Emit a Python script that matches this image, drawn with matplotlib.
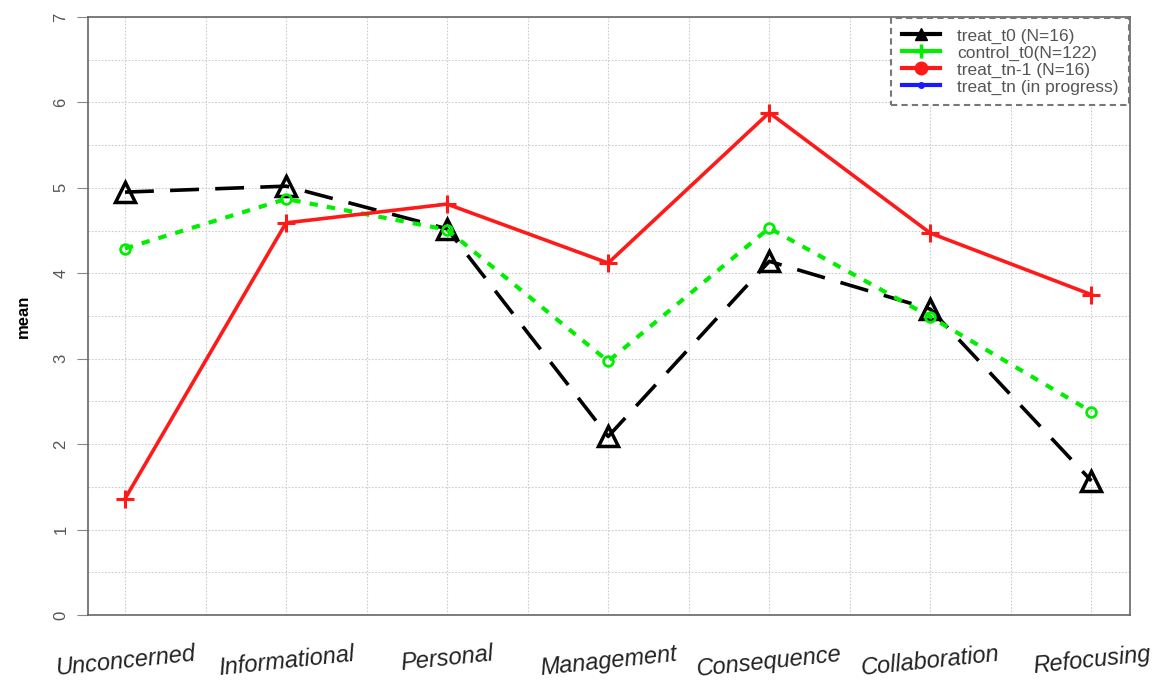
import matplotlib.pyplot as plt
import numpy as np
from matplotlib.lines import Line2D

plt.rcParams['font.family'] = ['Liberation Sans', 'DejaVu Sans']

# Data
stages = ['Unconcerned', 'Informational', 'Personal', 'Management',
          'Consequence', 'Collaboration', 'Refocusing']
treat_t0 = [4.95, 5.02, 4.52, 2.09, 4.14, 3.58, 1.57]
control_t0 = [4.29, 4.87, 4.51, 2.97, 4.53, 3.49, 2.38]
treat_tn1 = [1.36, 4.59, 4.81, 4.12, 5.88, 4.47, 3.75]
legend_labels = ['treat_t0 (N=16)', 'control_t0(N=122)', 'treat_tn-1 (N=16)', 'treat_tn (in progress)']

x = np.arange(1, len(stages) + 1)

fig = plt.figure(figsize=(11.57, 6.8), dpi=100)
ax = fig.add_axes([0.076, 0.0956, 0.9007, 0.8794])

ax.plot(x, treat_t0, color='black', lw=2.6, ls=(0, (8, 4.5)), marker='^',
        ms=15, mfc='none', mec='black', mew=2.5, zorder=3)
ax.plot(x, control_t0, color='#00ee00', lw=3, ls=(0, (2, 2.2)), marker='o',
        ms=7, mfc='none', mec='#00ee00', mew=2, zorder=4)
ax.plot(x, treat_tn1, color='#ff1a1a', lw=2.6, ls='-', marker='+',
        ms=13, mec='#ff1a1a', mew=2.2, zorder=5)

ax.set_xlim(0.77, 7.24)
ax.set_ylim(0, 7)
ax.set_xticks(np.arange(1, 7.01, 0.5), minor=True)
ax.set_yticks(np.arange(0, 7.01, 0.5), minor=True)
ax.set_yticks(range(0, 8))
ax.set_xticks(x)
ax.grid(True, which='both', color='#cccccc', ls=(0, (1.5, 1.5)), lw=0.8)
ax.set_axisbelow(True)

ax.set_xticklabels(stages, fontsize=17, style='italic', rotation=6, color='#222222')
ax.tick_params(axis='x', which='both', length=0, pad=20)
ax.tick_params(axis='y', which='major', length=8, color='#888888', labelcolor='#555555',
               labelsize=12, labelrotation=90, pad=6)
ax.tick_params(axis='y', which='minor', length=0)
for lab in ax.get_yticklabels():
    lab.set_va('center')

for s in ax.spines.values():
    s.set_color('#666666')
    s.set_linewidth(1.2)

ax.set_ylabel('mean', fontsize=12, fontweight='bold', labelpad=16)

handles = [
    Line2D([], [], color='black', lw=3, marker='^', ms=9),
    Line2D([], [], color='#00ee00', lw=3, marker='+', ms=10, mew=2.5),
    Line2D([], [], color='#ff1a1a', lw=3, marker='o', ms=9),
    Line2D([], [], color='#1a1aff', lw=3, marker='o', ms=4),
]
leg = ax.legend(handles, legend_labels, loc='upper right', fontsize=12.5,
                handlelength=2.2, handletextpad=1.0, labelspacing=0.1,
                borderaxespad=0.05, fancybox=False, framealpha=1,
                borderpad=0.6, labelcolor='#555555')
leg.get_frame().set_edgecolor('#777777')
leg.get_frame().set_linestyle((0, (3, 2)))
leg.get_frame().set_linewidth(1.5)

fig.savefig('out.png', dpi=100)
